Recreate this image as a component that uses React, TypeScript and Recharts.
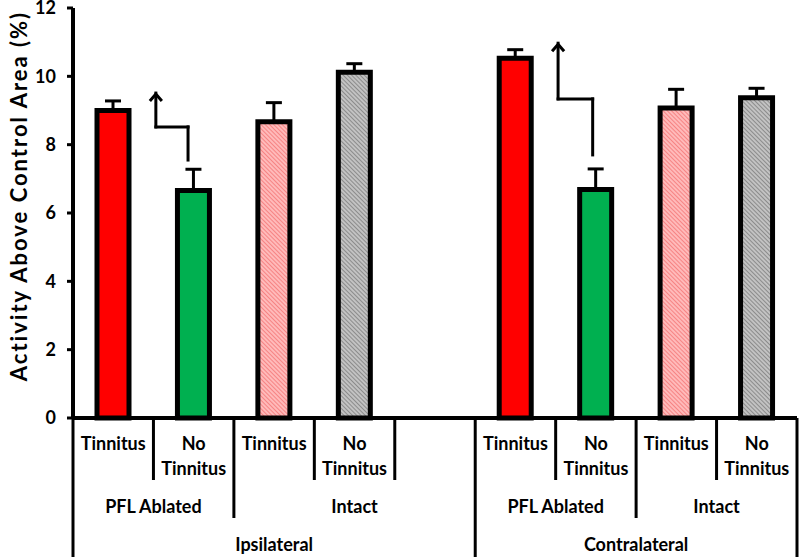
import React from 'react';
import { BarChart, Bar, XAxis, YAxis, Cell, ErrorBar, ReferenceLine } from 'recharts';

// ---- data ----
const categories = ['Tinnitus', 'No Tinnitus', 'Tinnitus', 'No Tinnitus', '', 'Tinnitus', 'No Tinnitus', 'Tinnitus', 'No Tinnitus'];
const values: (number | null)[] = [9.0, 6.66, 8.67, 10.12, null, 10.53, 6.69, 9.07, 9.37];
const errors: (number | null)[] = [0.28, 0.62, 0.56, 0.25, null, 0.25, 0.6, 0.55, 0.28];
const groups = [
  { label: 'PFL Ablated', start: 0, span: 2 },
  { label: 'Intact', start: 2, span: 3 },
  { label: 'PFL Ablated', start: 5, span: 2 },
  { label: 'Intact', start: 7, span: 2 },
];
const sides = [
  { label: 'Ipsilateral', start: 0, span: 5 },
  { label: 'Contralateral', start: 5, span: 4 },
];
const yTicks = [0, 2, 4, 6, 8, 10, 12];
// annotation arrows, in data units (x: position in slots from the left edge, y: % value)
const arrowPaths: [number, number][][] = [
  [[1.43, 7.55], [1.43, 8.52], [1.03, 8.52], [1.03, 9.51]],
  [[6.46, 7.7], [6.46, 9.34], [6.03, 9.34], [6.03, 10.97]],
];

// ---- styles ----
const fills = ['#FF0000', '#00B050', 'url(#pinkHatch)', 'url(#grayHatch)', 'none', '#FF0000', '#00B050', 'url(#pinkHatch)', 'url(#grayHatch)'];
const FONT = 'Lato, "Open Sans", sans-serif';

const W = 800;
const H = 557;
const Y_AXIS_W = 73;
const RIGHT = 3;
const TOP = 8;
const X_AXIS_H = 139;
const AXIS_Y = H - X_AXIS_H;
const SLOT = (W - Y_AXIS_W - RIGHT) / categories.length;

const data = categories.map((c, i) => ({
  idx: i,
  value: values[i],
  err: errors[i] == null ? null : [0, errors[i] as number],
}));

function isSideBoundary(i: number) {
  return sides.some((s) => s.start + s.span - 1 === i);
}
function isGroupBoundary(i: number) {
  return groups.some((g) => g.start + g.span - 1 === i);
}

const TableTick = (props: any) => {
  const { x, payload } = props;
  const i = Number(payload.value);
  const label = categories[i] || '';
  const sp = label.indexOf(' ');
  const lines = sp > 0 ? [label.slice(0, sp), label.slice(sp + 1)] : label ? [label] : [];
  const rightX = x + SLOT / 2;
  const depth = isSideBoundary(i) ? H : isGroupBoundary(i) ? 518 : 480;
  const txt = { fontFamily: FONT, fontWeight: 700, fontSize: 18, fill: '#000' } as const;
  const g = groups.find((gg) => gg.start === i);
  const s = sides.find((ss) => ss.start === i);
  return (
    <g>
      {i === 0 && <line x1={x - SLOT / 2} y1={AXIS_Y} x2={x - SLOT / 2} y2={H} stroke="#000" strokeWidth={3} />}
      <line x1={rightX} y1={AXIS_Y} x2={rightX} y2={depth} stroke="#000" strokeWidth={3} />
      {lines.map((t, k) => (
        <text key={k} x={x} y={443 + k * 25} textAnchor="middle" dominantBaseline="central" {...txt}>
          {t}
        </text>
      ))}
      {g && (
        <text x={x + ((g.span - 1) * SLOT) / 2} y={506} textAnchor="middle" dominantBaseline="central" {...txt}>
          {g.label}
        </text>
      )}
      {s && (
        <text x={x + ((s.span - 1) * SLOT) / 2} y={544} textAnchor="middle" dominantBaseline="central" {...txt}>
          {s.label}
        </text>
      )}
    </g>
  );
};

const ArrowSeg = (p: any, off1: number, off2: number, head: boolean) => {
  const x1 = p.x1 + off1 * SLOT;
  const x2 = p.x2 + off2 * SLOT;
  const { y1, y2 } = p;
  return (
    <g>
      <line x1={x1} y1={y1} x2={x2} y2={y2} stroke="#000" strokeWidth={3} strokeLinecap="square" />
      {head && (
        <polyline
          points={`${x2 - 6},${y2 + 8} ${x2},${y2 + 1} ${x2 + 6},${y2 + 8}`}
          fill="none"
          stroke="#000"
          strokeWidth={3}
        />
      )}
    </g>
  );
};

const YLabel = (props: any) => {
  const vb = props.viewBox || { y: TOP, height: AXIS_Y - TOP };
  const cx = 18;
  const cy = vb.y + vb.height / 2 - 17;
  return (
    <text
      x={cx}
      y={cy}
      transform={`rotate(-90, ${cx}, ${cy})`}
      textAnchor="middle"
      dominantBaseline="central"
      fontFamily={FONT}
      fontWeight={700}
      fontSize={22}
      letterSpacing={2}
      fill="#000"
    >
      Activity Above Control Area (%)
    </text>
  );
};

export default function App() {
  return (
    <div style={{ position: 'absolute', left: 0, top: 0, width: W, height: H, background: '#fff' }}>
      <BarChart width={W} height={H} data={data} margin={{ top: TOP, right: RIGHT, left: 0, bottom: 0 }} barCategoryGap={0}>
        <defs>
          <pattern id="pinkHatch" width="3" height="3" patternUnits="userSpaceOnUse" patternTransform="rotate(-45)">
            <rect width="3" height="3" fill="#FFBABA" />
            <line x1="0" y1="0" x2="0" y2="3" stroke="#F06060" strokeWidth="1.2" />
          </pattern>
          <pattern id="grayHatch" width="3" height="3" patternUnits="userSpaceOnUse" patternTransform="rotate(-45)">
            <rect width="3" height="3" fill="#C2C2C2" />
            <line x1="0" y1="0" x2="0" y2="3" stroke="#686868" strokeWidth="1.2" />
          </pattern>
        </defs>
        <XAxis
          dataKey="idx"
          type="category"
          height={X_AXIS_H}
          interval={0}
          axisLine={{ stroke: '#000', strokeWidth: 4 }}
          tickLine={false}
          tick={<TableTick />}
        />
        <YAxis
          width={Y_AXIS_W}
          domain={[0, 12]}
          ticks={yTicks}
          interval={0}
          axisLine={{ stroke: '#000', strokeWidth: 4 }}
          tickLine={{ stroke: '#000', strokeWidth: 3 }}
          tickSize={6}
          tickMargin={11}
          tick={{ fontFamily: FONT, fontWeight: 700, fontSize: 18, fill: '#000' }}
          label={{ content: YLabel }}
        />
        <Bar dataKey="value" barSize={32} stroke="#000" strokeWidth={5} isAnimationActive={false}>
          {data.map((d, i) => (
            <Cell key={i} fill={fills[i]} />
          ))}
          <ErrorBar dataKey="err" width={8} stroke="#000" strokeWidth={3} direction="y" />
        </Bar>
        {arrowPaths.map((path, a) =>
          path.slice(0, -1).map((pt, k) => {
            const nx = path[k + 1];
            const c1 = Math.floor(pt[0]);
            const c2 = Math.floor(nx[0]);
            const off1 = pt[0] - c1 - 0.5;
            const off2 = nx[0] - c2 - 0.5;
            const head = k === path.length - 2;
            return (
              <ReferenceLine
                key={`${a}-${k}`}
                segment={[
                  { x: c1, y: pt[1] },
                  { x: c2, y: nx[1] },
                ]}
                ifOverflow="visible"
                shape={(p: any) => ArrowSeg(p, off1, off2, head)}
              />
            );
          })
        )}
      </BarChart>
    </div>
  );
}
